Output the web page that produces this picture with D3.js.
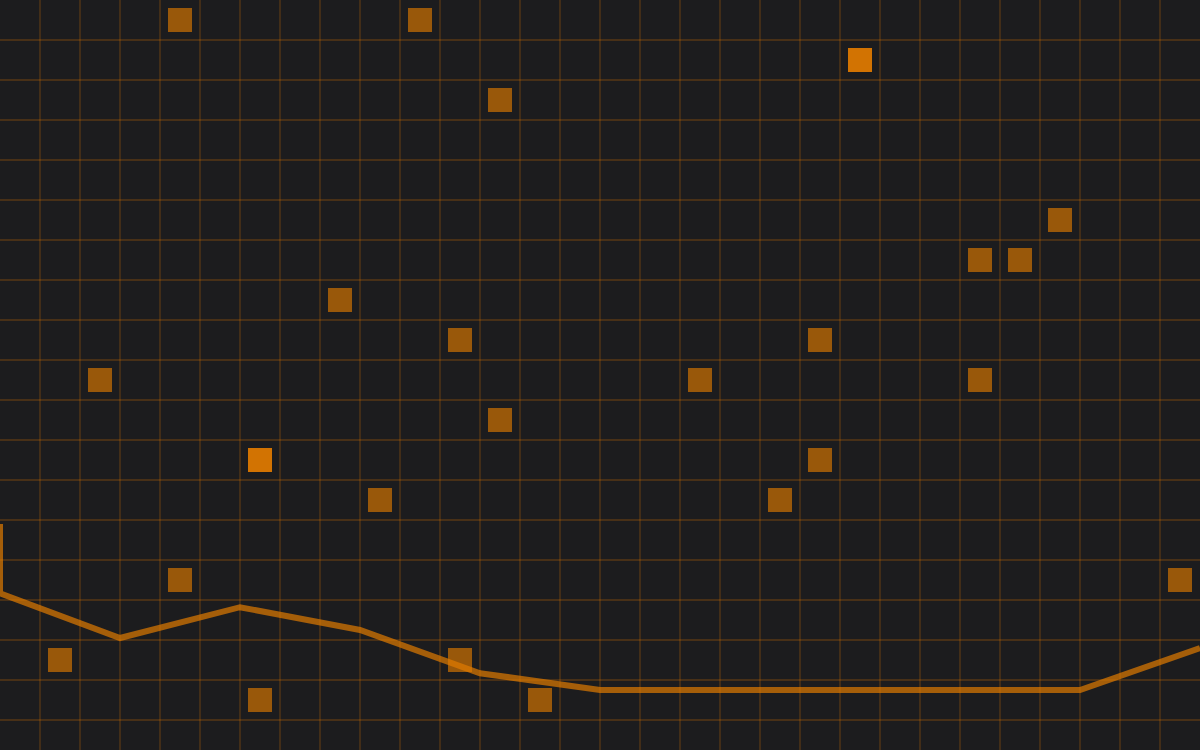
<!DOCTYPE html>
<html>
<head>
<meta charset="utf-8">
<script src="https://cdn.jsdelivr.net/npm/d3@7"></script>
<style>
  html, body { margin: 0; padding: 0; background: #1c1c1e; overflow: hidden; }
  svg { display: block; }
</style>
</head>
<body>
<svg id="chart" width="1200" height="750"></svg>
<script>
// Scatter cells: column index, row index, highlighted flag
const cellCols = [4, 10, 21, 12, 26, 24, 25, 8, 11, 20, 2, 17, 24, 12, 6, 20, 9, 19, 4, 29, 1, 11, 6, 13];
const cellRows = [0, 0, 1, 2, 5, 6, 6, 7, 8, 8, 9, 9, 9, 10, 11, 11, 12, 12, 14, 14, 16, 16, 17, 17];
const cellHot  = [0, 0, 1, 0, 0, 0, 0, 0, 0, 0, 0, 0, 0, 0, 1, 0, 0, 0, 0, 0, 0, 0, 0, 0];

// Line series (x in columns, y in rows)
const lineX = [0, 0, 3, 6, 9, 12, 15, 18, 21, 24, 27, 30];
const lineY = [13.1, 14.83, 15.95, 15.18, 15.75, 16.83, 17.25, 17.25, 17.25, 17.25, 17.25, 16.2];

const W = 1200, H = 750;
const svg = d3.select("#chart");
const x = d3.scaleLinear().domain([0, 30]).range([0, W]);
const y = d3.scaleLinear().domain([0, 18.75]).range([0, H]);

svg.append("rect").attr("width", W).attr("height", H).attr("fill", "#1c1c1e");

const orange = "#e07a00";

// Grid
const g = svg.append("g").attr("stroke", orange).attr("stroke-opacity", 0.3).attr("stroke-width", 1.3);
g.selectAll("line.v").data(d3.range(1, 30)).join("line").attr("class", "v")
  .attr("x1", d => x(d)).attr("x2", d => x(d)).attr("y1", 0).attr("y2", H);
g.selectAll("line.h").data(d3.range(1, 19)).join("line").attr("class", "h")
  .attr("y1", d => y(d)).attr("y2", d => y(d)).attr("x1", 0).attr("x2", W);

// Squares
const s = x(0.6) - x(0);
const cells = cellCols.map((c, i) => ({ c, r: cellRows[i], hot: cellHot[i] }));
svg.append("g").selectAll("rect").data(cells).join("rect")
  .attr("x", d => x(d.c + 0.5) - s / 2)
  .attr("y", d => y(d.r + 0.5) - s / 2)
  .attr("width", s).attr("height", s)
  .attr("fill", orange)
  .attr("fill-opacity", d => d.hot ? 0.93 : 0.64);

// Line
const pts = lineX.map((v, i) => [v, lineY[i]]);
svg.append("path").datum(pts)
  .attr("d", d3.line().x(d => x(d[0])).y(d => y(d[1])))
  .attr("fill", "none")
  .attr("stroke", orange)
  .attr("stroke-opacity", 0.7)
  .attr("stroke-width", 6)
  .attr("stroke-linejoin", "miter");
</script>
</body>
</html>
